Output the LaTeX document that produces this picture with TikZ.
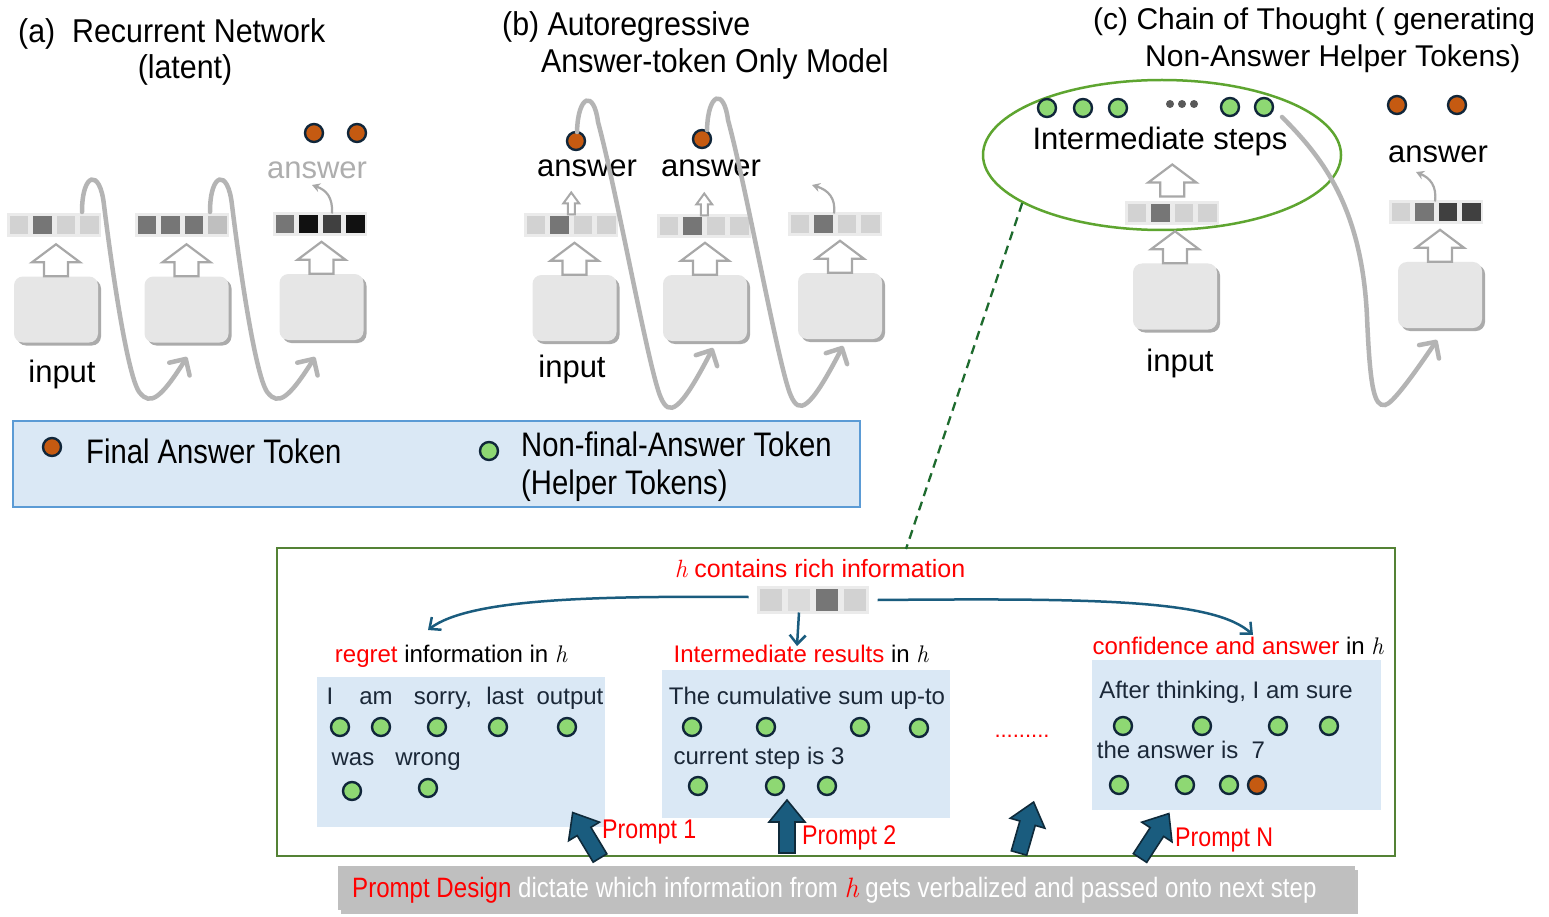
\documentclass[tikz,border=0pt]{standalone}
\usepackage{fontspec}
\setmainfont{Liberation Sans}
\newfontfamily\condf[FakeStretch=0.86]{Liberation Sans}
\newfontfamily\titf[FakeStretch=0.92]{Liberation Sans}
\newfontfamily\lmfont{Latin Modern Roman}
\newcommand\hh{{\lmfont\itshape h}}
\usetikzlibrary{arrows.meta,shadows,positioning,shapes.geometric,calc}
\definecolor{ora}{HTML}{C55A11}
\definecolor{grn}{HTML}{8ED873}
\definecolor{dotline}{HTML}{10263A}
\definecolor{boxgray}{HTML}{E6E6E6}
\definecolor{curvegray}{HTML}{B4B4B4}
\definecolor{arrgray}{HTML}{A8A8A8}
\definecolor{lblue}{HTML}{DAE8F5}
\definecolor{lborder}{HTML}{5B9BD5}
\definecolor{gborder}{HTML}{548235}
\definecolor{ellg}{HTML}{5EA530}
\definecolor{dashg}{HTML}{1E6B2E}
\definecolor{tealb}{HTML}{1A5C7E}
\definecolor{tealdark}{HTML}{0F2A3A}
\definecolor{navy}{HTML}{1B2838}
\definecolor{redt}{HTML}{FF0000}
\definecolor{anscol}{HTML}{AEAEAE}
\definecolor{cA}{HTML}{D2D2D2}
\definecolor{cB}{HTML}{767676}
\definecolor{cC}{HTML}{404040}
\definecolor{cD}{HTML}{111111}
\definecolor{cE}{HTML}{BFBFBF}
\definecolor{cellb}{HTML}{EBEBEB}
\definecolor{bargray}{HTML}{BFBFBF}
\definecolor{tdots}{HTML}{595959}
\newcommand\fsz[1]{\fontsize{#1}{#1}\selectfont}
\newcommand\tokvec[7]{%
  \node[cellbox, fill=#3] (#1-1) at (#2) {};
  \node[cellbox, fill=#4, right=#7 of #1-1] (#1-2) {};
  \node[cellbox, fill=#5, right=#7 of #1-2] (#1-3) {};
  \node[cellbox, fill=#6, right=#7 of #1-3] (#1-4) {};}
\tikzset{
  dotO/.style={circle, fill=ora, draw=dotline, line width=2.4pt, minimum size=18pt, inner sep=0pt},
  dotG/.style={circle, fill=grn, draw=dotline, line width=2.4pt, minimum size=18pt, inner sep=0pt},
  tdot/.style={circle, fill=tdots, minimum size=8pt, inner sep=0pt},
  cellbox/.style={draw=cellb, line width=2.5pt, minimum size=21pt, inner sep=0pt, outer sep=0pt},
  model/.style={rounded corners=9pt, fill=boxgray, minimum width=84pt, minimum height=66pt, inner sep=0pt,
    drop shadow={shadow xshift=3pt, shadow yshift=-3pt, opacity=.55, fill=black!60}},
  recur/.style={draw=curvegray, line width=4.5pt, line cap=round, -{Straight Barb[length=12pt,width=24pt,round]}},
  smallcurve/.style={draw=arrgray, line width=2.2pt, -{Stealth[length=8pt,width=9pt]}},
  hollow/.style={draw=arrgray, line width=2.2pt, fill=white, line join=miter},
  blockst/.style={draw=tealdark, line width=1.6pt, fill=tealb, line join=miter},
  bluearr/.style={draw=tealb, line width=2.5pt, -{Straight Barb[length=9pt,width=16pt]}},
  lab/.style={inner sep=0pt, anchor=base},
  lblbox/.style={fill=lblue, inner sep=0pt},
  pics/hollowbig/.style={code={\draw[hollow] (-12,0)--(-12,-14)--(-24,-14)--(0,-32)--(24,-14)--(12,-14)--(12,0)--cycle;}},
  pics/hollowsmall/.style={code={\draw[hollow, line width=2pt] (-3.5,0)--(-3.5,-11)--(-8,-11)--(0,-22)--(8,-11)--(3.5,-11)--(3.5,0)--cycle;}},
  pics/blockarr/.style={code={\draw[blockst] (-8,0)--(-8,-31)--(-18,-31)--(0,-53)--(18,-31)--(8,-31)--(8,0)--cycle;}},
  pics/recA/.style={code={\draw[recur] (0,0) .. controls (0,-40) and (18,-44) .. (22,-7) .. controls (30,58) and (46,168) .. (58,181) .. controls (68,193) and (78,188) .. (105,145);}},
  pics/recB/.style={code={\draw[recur] (0,0) .. controls (1,-38) and (17,-42) .. (21,-10) .. controls (40,60) and (72,240) .. (84,266) .. controls (92,284) and (102,282) .. (136,216);}},
  pics/recC/.style={code={\draw[recur] (0,0) .. controls (40,40) and (80,90) .. (85,200) .. controls (88,270) and (92,290) .. (103,288) .. controls (110,287) and (130,260) .. (155,223);}},
}
\begin{document}
\begin{tikzpicture}[x=1pt,y=-1pt]
\useasboundingbox (0,0) rectangle (1549,917);
\fill[white] (0,0) rectangle (1549,917);

% ---------------- (a) ----------------
\node[lab, anchor=base west] (ta1) at (18,43) {\titf\fsz{33}(a)\ \ Recurrent Network};
\node[lab] (ta2) at (185,79) {\titf\fsz{33}(latent)};
\node[model] (ma1) at (56,309.5) {};
\node[model] (ma2) at (186.5,309.5) {};
\node[model] (ma3) at (321.5,307) {};
\tokvec{va1}{19,225}{cA}{cB}{cA}{cA}{2.5pt}
\tokvec{va2}{147,225}{cB}{cB}{cB}{cE}{2.5pt}
\tokvec{va3}{285,224}{cB}{cD}{cC}{cD}{2.5pt}
\pic at (ma1.north) {hollowbig};
\pic at (ma2.north) {hollowbig};
\pic at (ma3.north) {hollowbig};
\node[lab] (ina) at (62,382) {\fsz{31}input};
\node[lab, text=anscol] (ansa) at (317,179) {\fsz{31}answer};
\node[dotO] (oa1) at (314,133) {};
\node[dotO] (oa2) at (357,133) {};
\coordinate (aa) at (312,185);
\draw[smallcurve] (va3-3.north) .. controls (333,197) and (326,190) .. (aa);
\coordinate (sa1) at (82,212);
\coordinate (sa2) at (210,212);
\pic at (sa1) {recA};
\pic at (sa2) {recA};

% ---------------- (b) ----------------
\node[lab, anchor=base west] (tb1) at (502,36) {\titf\fsz{33}(b) Autoregressive};
\node[lab, anchor=base west] (tb2) at (541,73) {\titf\fsz{33}Answer-token Only Model};
\node[model] (mb1) at (574.5,308) {};
\node[model] (mb2) at (705,308) {};
\node[model] (mb3) at (840,306) {};
\tokvec{vb1}{536,225}{cA}{cB}{cA}{cA}{2.5pt}
\tokvec{vb2}{669,226}{cA}{cB}{cA}{cA}{2.5pt}
\tokvec{vb3}{800,224}{cA}{cB}{cA}{cA}{2.5pt}
\pic at (mb1.north) {hollowbig};
\pic at (mb2.north) {hollowbig};
\pic at (mb3.north) {hollowbig};
\pic at ($(vb1-2.north)!.5!(vb1-3.north)$) {hollowsmall};
\pic at ($(vb2-2.north)!.5!(vb2-3.north)$) {hollowsmall};
\node[lab] (inb) at (572,377) {\fsz{31}input};
\node[lab] (ansb1) at (587,177) {\fsz{31}answer};
\node[lab] (ansb2) at (711,177) {\fsz{31}answer};
\node[dotO] (ob1) at (576,141) {};
\node[dotO] (ob2) at (702,139) {};
\coordinate (ab) at (812,185);
\draw[smallcurve] (vb3-2.north east) .. controls (836,198) and (828,190) .. (ab);
\coordinate (sb1) at (577,132);
\coordinate (sb2) at (707,130);
\pic at (sb1) {recB};
\pic at (sb2) {recB};

% ---------------- (c) ----------------
\node[lab, anchor=base west] (tc1) at (1093,30) {\fsz{30}(c) Chain of Thought ( generating};
\node[lab, anchor=base west] (tc2) at (1145,67) {\fsz{30}Non-Answer Helper Tokens)};
\node[ellipse, draw=ellg, line width=2.5pt, minimum width=358pt, minimum height=150pt, inner sep=0pt] (ell) at (1162,155) {};
\node[dotG] (g1) at (1047,108) {};
\node[dotG] (g2) at (1083,108) {};
\node[dotG] (g3) at (1118,108) {};
\node[tdot] (td1) at (1170,104) {};
\node[tdot] (td2) at (1182,104) {};
\node[tdot] (td3) at (1194,104) {};
\node[dotG] (g4) at (1230,107) {};
\node[dotG] (g5) at (1264,107) {};
\node[lab] (ist) at (1160,150) {\fsz{31}Intermediate steps};
\node[model] (mc1) at (1175,296.5) {};
\tokvec{vc1}{1137,213}{cA}{cB}{cA}{cA}{2.5pt}
\pic at (mc1.north) {hollowbig};
\pic at ($(vc1-2.north)!.5!(vc1-3.north)+(0,-6)$) {hollowbig};
\node[lab] (inc) at (1180,371) {\fsz{31}input};
\node[model] (mc2) at (1440,295) {};
\tokvec{vc2}{1401,212}{cA}{cB}{cC}{cC}{2.5pt}
\pic at (mc2.north) {hollowbig};
\node[lab] (ansc) at (1438,163) {\fsz{31}answer};
\node[dotO] (oc1) at (1397,105) {};
\node[dotO] (oc2) at (1457,105) {};
\coordinate (ac) at (1416,172);
\draw[smallcurve] (vc2-2.north east) .. controls (1437,186) and (1430,178) .. (ac);
\coordinate (sc) at (1282,117);
\pic at (sc) {recC};

% ---------------- legend ----------------
\node[fill=lblue, draw=lborder, line width=1.5pt, minimum width=847pt, minimum height=86pt, inner sep=0pt] (leg) at (436.5,464) {};
\node[dotO] (lo) at (52,447) {};
\node[lab, anchor=base west] (lt1) at (86,463) {\condf\fsz{34}Final Answer Token};
\node[dotG] (lg) at (489,451) {};
\node[lab, anchor=base west] (lt2) at (521,456) {\condf\fsz{34}Non-final-Answer Token};
\node[lab, anchor=base west] (lt3) at (521,494) {\condf\fsz{34}(Helper Tokens)};

% ---------------- bottom panel ----------------
\node[draw=gborder, line width=2.5pt, minimum width=1118pt, minimum height=308pt, inner sep=0pt] (gbox) at (836,702) {};
\coordinate (dend) at (906,549);
\draw[dashg, line width=2.3pt, dash pattern=on 9pt off 6pt] (ell.199) -- (dend);

\node[lab, text=redt] (hcr) at (820,577) {\fsz{25}\hh{} contains rich information};
\begin{scope}[cellbox/.append style={minimum size=25pt}]
\tokvec{hv}{771,600}{cA}{cA!80}{cB}{cA}{3pt}
\end{scope}
\coordinate (lt) at (428,630);
\coordinate (mt) at (797,646);
\coordinate (rt) at (1253,635);
\draw[bluearr] (hv-1.west) ++(-10,-3) .. controls (600,596) and (470,598) .. (lt);
\draw[bluearr] (hv-2.south) -- (mt);
\draw[bluearr] (hv-4.east) ++(10,0) .. controls (1100,598) and (1215,600) .. (rt);

% box 1
\node[lab] (r1) at (451,662) {\fsz{24}\textcolor{redt}{regret} information in \hh};
\node[lblbox, minimum width=288pt, minimum height=150pt] (b1) at (461,752) {};
\node[lab, text=navy] (w1) at (330,704) {\fsz{24}I};
\node[lab, text=navy] (w2) at (376,704) {\fsz{24}am};
\node[lab, text=navy] (w3) at (443,704) {\fsz{24}sorry,};
\node[lab, text=navy] (w4) at (505,704) {\fsz{24}last};
\node[lab, text=navy] (w5) at (570,704) {\fsz{24}output};
\node[dotG] (d11) at (340,727) {};
\node[dotG] (d12) at (381,727) {};
\node[dotG] (d13) at (437,727) {};
\node[dotG] (d14) at (498,727) {};
\node[dotG] (d15) at (567,727) {};
\node[lab, text=navy] (w6) at (353,765) {\fsz{24}was};
\node[lab, text=navy] (w7) at (428,765) {\fsz{24}wrong};
\node[dotG] (d16) at (352,791) {};
\node[dotG] (d17) at (428,788) {};

% box 2
\node[lab] (r2) at (801,662) {\fsz{24}\textcolor{redt}{Intermediate results} in \hh};
\node[lblbox, minimum width=288pt, minimum height=148pt] (b2) at (806,744) {};
\node[lab, text=navy] (s1) at (807,704) {\fsz{24}The cumulative sum up-to};
\node[dotG] (d21) at (692,727) {};
\node[dotG] (d22) at (766,727) {};
\node[dotG] (d23) at (860,727) {};
\node[dotG] (d24) at (919,728) {};
\node[lab, text=navy] (s2) at (759,764) {\fsz{24}current step is 3};
\node[dotG] (d25) at (698,786) {};
\node[dotG] (d26) at (775,786) {};
\node[dotG] (d27) at (827,786) {};

\node[lab, text=redt] (dd) at (1022,737) {\fsz{22}.........};

% box 3
\node[lab] (r3) at (1238,654) {\fsz{24}\textcolor{redt}{confidence and answer} in \hh};
\node[lblbox, minimum width=289pt, minimum height=150pt] (b3) at (1236.5,735) {};
\node[lab, text=navy] (s3) at (1226,698) {\fsz{24}After thinking, I am sure};
\node[dotG] (d31) at (1123,726) {};
\node[dotG] (d32) at (1202,726) {};
\node[dotG] (d33) at (1278,726) {};
\node[dotG] (d34) at (1329,726) {};
\node[lab, text=navy] (s4) at (1181,758) {\fsz{24}the answer is\ \ 7};
\node[dotG] (d35) at (1119,785) {};
\node[dotG] (d36) at (1185,785) {};
\node[dotG] (d37) at (1229,785) {};
\node[dotO] (d38) at (1257,785) {};

% prompt arrows
\coordinate (pa1) at (600,858);
\coordinate (pa2) at (787,853);
\coordinate (pa3) at (1019,853);
\coordinate (pa4) at (1140,858);
\pic[rotate=31] at (pa1) {blockarr};
\pic at (pa2) {blockarr};
\pic[rotate=-16] at (pa3) {blockarr};
\pic[rotate=-33] at (pa4) {blockarr};
\node[lab, anchor=base west, text=redt] (p1) at (602,838) {\condf\fsz{27}Prompt 1};
\node[lab, anchor=base west, text=redt] (p2) at (802,844) {\condf\fsz{27}Prompt 2};
\node[lab, anchor=base west, text=redt] (p3) at (1175,846) {\condf\fsz{27}Prompt N};

% bottom bar
\node[fill=bargray, minimum width=1017pt, minimum height=44pt, inner sep=0pt,
  drop shadow={shadow xshift=3pt, shadow yshift=-4pt, opacity=.35, fill=black!70}] (bar) at (846.5,888) {};
\node[lab, anchor=base west] (bt) at (352,897) {\condf\fsz{28}\textcolor{redt}{Prompt Design} \textcolor{white}{dictate which information from} \textcolor{redt}{\hh} \textcolor{white}{gets verbalized and passed onto next step}};
\end{tikzpicture}
\end{document}
